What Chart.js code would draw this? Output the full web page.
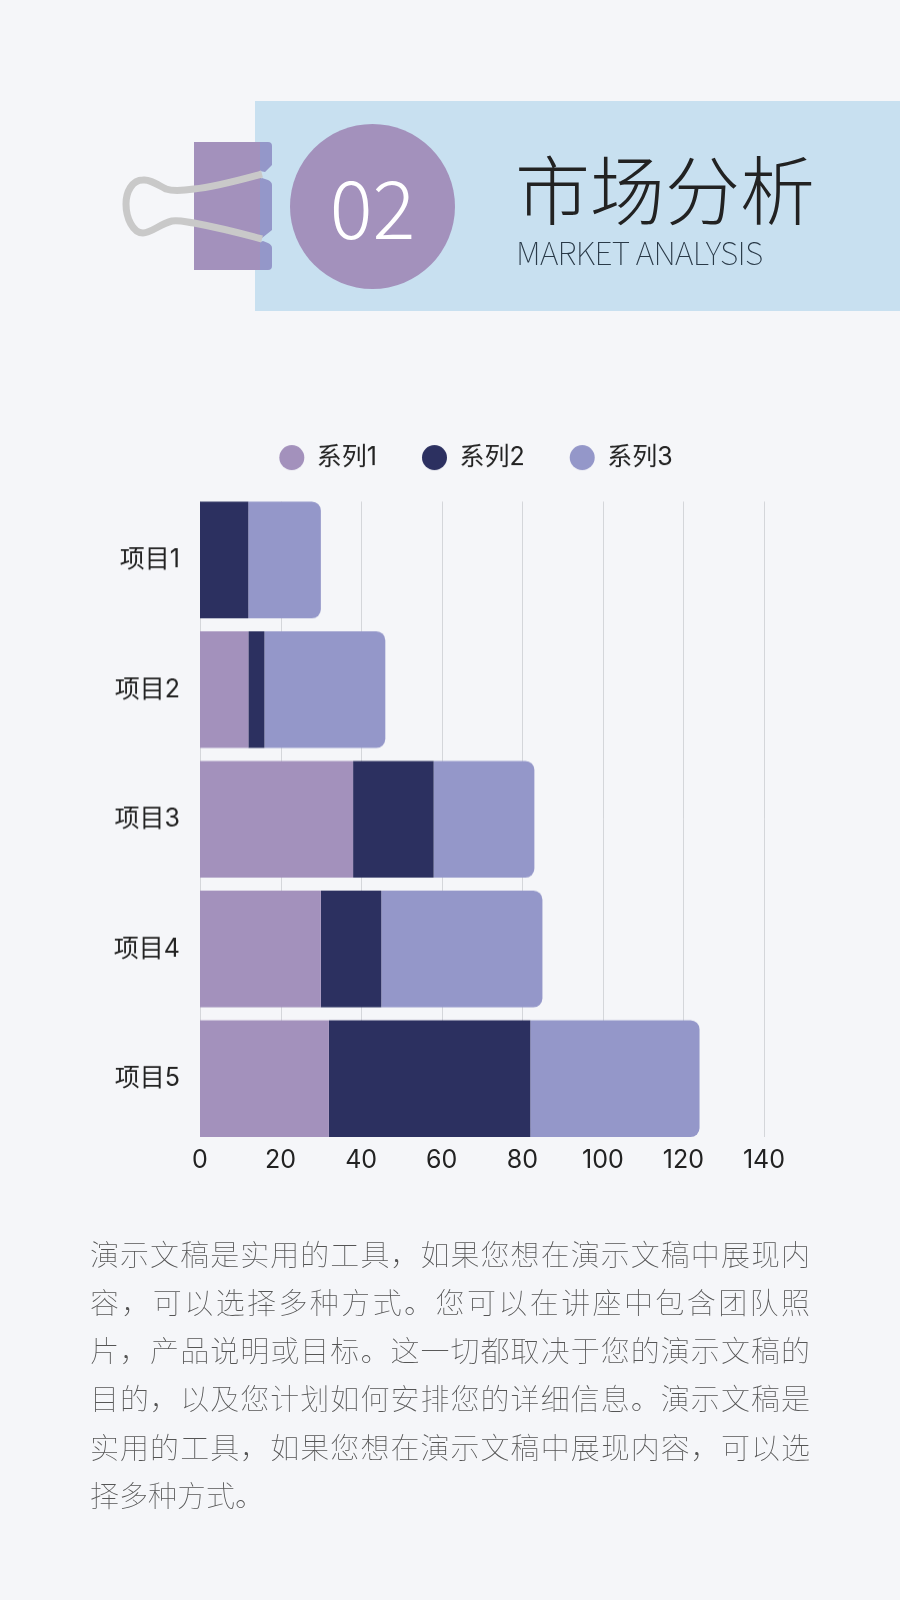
<!DOCTYPE html>
<html>
<head>
<meta charset="utf-8">
<script src="https://cdn.jsdelivr.net/npm/chart.js@4"></script>
<style>
  html, body { margin: 0; padding: 0; background: #f5f6f9; }
  body { position: relative; width: 900px; height: 1600px; overflow: hidden; font-family: "Noto Sans CJK SC", "Noto Sans", sans-serif; }
  .banner { position: absolute; left: 255px; top: 101px; width: 645px; height: 210px; background: #c8e0f0; }
  .badge { position: absolute; left: 290px; top: 124px; width: 165px; height: 165px; border-radius: 50%; background: #a391bc; color: #fff; font-size: 80px; font-weight: 300; line-height: 161px; text-align: center; }
  .title { position: absolute; left: 515px; top: 137px; font-size: 75px; font-weight: 300; color: #222; line-height: 100px; white-space: nowrap; }
  .subtitle { position: absolute; left: 516px; top: 229px; font-size: 32px; font-weight: 100; letter-spacing: -0.7px; color: #2a3a48; line-height: 44px; white-space: nowrap; will-change: opacity; }
  .clip { position: absolute; left: 0; top: 0; }
  .chart-box { position: absolute; left: 52px; top: 415px; width: 848px; height: 762.5px; }
  .body-text { position: absolute; left: 90px; top: 1228.5px; width: 720px; font-size: 29px; font-weight: 100; color: #555; line-height: 48.3px; will-change: opacity; }
  .body-text div { text-align: justify; text-align-last: justify; }
  .body-text div:last-child { text-align-last: left; }
</style>
</head>
<body>
<div class="banner"></div>
<svg class="clip" width="300" height="300">
  <rect x="194" y="142" width="67" height="128" fill="#a391bc"/>
  <path d="M260 142h8q4 0 4 4v19l-7 7l-5-1z M262 178l6 2q4 2 4 5v45l-10 8l-2-1v-58z M263 241l5 2q4 2 4 5v18q0 4-4 4h-8v-28z" fill="#9497c9"/>
  <path d="M262 174C240 180 215 187 194 189C180 191 172 191 166 189C158 185 150 179 143 180C132 180 126 192 126 204C126 218 133 233 143 233C151 233 160 224 172 221C180 220 186 222 194 223C215 227 240 233 262 239" fill="none" stroke="#c9c9c9" stroke-width="7"/>
</svg>
<div class="badge">02</div>
<div class="title">市场分析</div>
<div class="subtitle">MARKET ANALYSIS</div>
<div class="chart-box"><canvas id="chart"></canvas></div>
<div class="body-text" id="bodyText"></div>
<script>
const categories = ['项目1', '项目2', '项目3', '项目4', '项目5'];
const series1 = [0, 12, 38, 30, 32];
const series2 = [12, 4, 20, 15, 50];
const series3 = [18, 30, 25, 40, 42];
const seriesNames = ['系列1', '系列2', '系列3'];
const xTicks = [0, 20, 40, 60, 80, 100, 120, 140];
const paragraph = [
  '演示文稿是实用的工具，如果您想在演示文稿中展现内',
  '容，可以选择多种方式。您可以在讲座中包含团队照',
  '片，产品说明或目标。这一切都取决于您的演示文稿的',
  '目的，以及您计划如何安排您的详细信息。演示文稿是',
  '实用的工具，如果您想在演示文稿中展现内容，可以选',
  '择多种方式。'
];

document.getElementById('bodyText').innerHTML = paragraph.map(l => `<div>${l}</div>`).join('');

const labelFont = 'Inter, "Noto Sans CJK SC"';

// gridlines only run between first bar top and last bar bottom
const shortGrid = {
  id: 'shortGrid',
  beforeDatasetsDraw(chart) {
    const bars = chart.getDatasetMeta(0).data;
    const x = chart.scales.x;
    const top = bars[0].y - bars[0].height / 2;
    const last = bars[bars.length - 1];
    const bottom = last.y + last.height / 2;
    const ctx = chart.ctx;
    ctx.save();
    ctx.strokeStyle = '#d4d6da';
    ctx.lineWidth = 1;
    xTicks.forEach(t => {
      const px = Math.round(x.getPixelForValue(t)) + 0.5;
      ctx.beginPath();
      ctx.moveTo(px, top);
      ctx.lineTo(px, bottom);
      ctx.stroke();
    });
    ctx.restore();
  }
};

// legend sits off-centre from the plot, nudge it after layout
const legendNudge = {
  id: 'legendNudge',
  afterLayout(chart) {
    const l = chart.legend;
    const dx = 476 - 52 - (l.left + l.right) / 2;
    l.left += dx;
    l.right += dx;
    l.top -= 15;
    l.bottom -= 15;
  }
};

new Chart(document.getElementById('chart'), {
  type: 'bar',
  data: {
    labels: categories,
    datasets: [
      { label: seriesNames[0], data: series1, backgroundColor: '#a391bc' },
      { label: seriesNames[1], data: series2, backgroundColor: '#2c3060' },
      { label: seriesNames[2], data: series3, backgroundColor: '#9497c9', borderRadius: 9 }
    ]
  },
  options: {
    indexAxis: 'y',
    responsive: true,
    maintainAspectRatio: false,
    animation: false,
    categoryPercentage: 0.9,
    barPercentage: 1,
    layout: { padding: { left: 58, right: 136, top: 0, bottom: 0 } },
    plugins: {
      legend: {
        position: 'top',
        labels: {
          usePointStyle: true,
          pointStyle: 'circle',
          pointStyleWidth: 25,
          boxHeight: 17.7,
          padding: 45,
          color: '#222',
          font: { family: labelFont, size: 25 }
        }
      },
      tooltip: { enabled: false }
    },
    scales: {
      x: {
        stacked: true,
        min: 0,
        max: 140,
        grid: { display: false, drawTicks: false },
        border: { display: false },
        ticks: {
          stepSize: 20,
          padding: 2,
          maxRotation: 0,
          color: '#222',
          font: { family: labelFont, size: 25 }
        }
      },
      y: {
        stacked: true,
        afterFit(scale) { scale.width = 90; },
        grid: { display: false, drawTicks: false },
        border: { display: false },
        ticks: {
          padding: 20,
          color: '#222',
          font: { family: labelFont, size: 25 }
        }
      }
    }
  },
  plugins: [shortGrid, legendNudge]
});
</script>
</body>
</html>
